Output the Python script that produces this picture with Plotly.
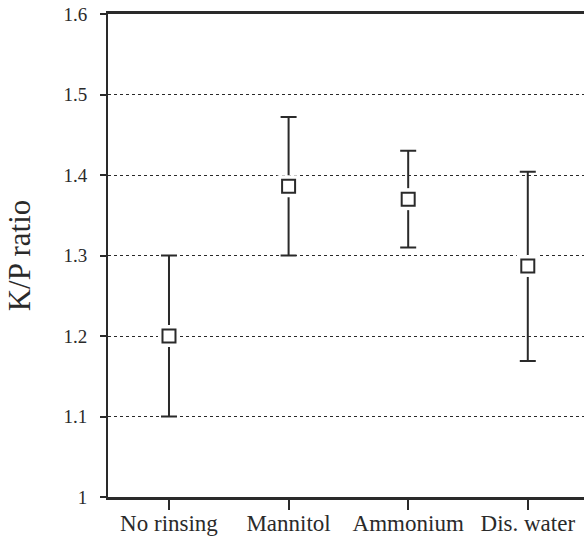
import plotly.graph_objects as go

categories = ["No rinsing", "Mannitol", "Ammonium", "Dis. water"]
kp_mean = [1.200, 1.386, 1.370, 1.287]
kp_upper = [1.300, 1.472, 1.430, 1.404]
kp_lower = [1.100, 1.300, 1.310, 1.169]
y_ticks = [1, 1.1, 1.2, 1.3, 1.4, 1.5, 1.6]
y_tick_text = ["1", "1.1", "1.2", "1.3", "1.4", "1.5", "1.6"]

xs = list(range(len(categories)))
err_plus = [u - m for u, m in zip(kp_upper, kp_mean)]
err_minus = [m - l for m, l in zip(kp_mean, kp_lower)]

fig = go.Figure()
fig.add_trace(go.Scatter(
    x=xs, y=kp_mean, mode="markers",
    marker=dict(symbol="square", size=22, color="white", line=dict(width=0)),
    error_y=dict(type="data", symmetric=False, array=err_plus, arrayminus=err_minus,
                 color="#2a2a2a", thickness=2, width=8),
    showlegend=False, hoverinfo="skip",
))
fig.add_trace(go.Scatter(
    x=xs, y=kp_mean, mode="markers",
    marker=dict(symbol="square", size=13, color="white", line=dict(width=2, color="#2a2a2a")),
    showlegend=False,
))

fig.update_layout(
    width=584, height=546,
    margin=dict(l=108, r=0, t=14, b=49),
    paper_bgcolor="white", plot_bgcolor="white",
    font=dict(family="Liberation Serif", color="#2a2a2a"),
    xaxis=dict(
        range=[-0.51, 3.47], tickmode="array", tickvals=xs, ticktext=categories,
        showgrid=False, zeroline=False,
        showline=True, linecolor="#2a2a2a", linewidth=2.5, mirror=True,
        ticks="outside", ticklen=10, tickwidth=2, tickcolor="#2a2a2a",
        ticklabelstandoff=-6,
        tickfont=dict(size=23, family="Liberation Serif"),
    ),
    yaxis=dict(
        range=[1, 1.6], tickmode="array", tickvals=y_ticks, ticktext=y_tick_text,
        showgrid=True, gridcolor="#2a2a2a", gridwidth=1.3, griddash="dot",
        zeroline=False,
        showline=True, linecolor="#2a2a2a", linewidth=2,
        ticks="outside", ticklen=6, tickwidth=2, tickcolor="#2a2a2a",
        ticklabelstandoff=9,
        tickfont=dict(size=19, family="Liberation Serif"),
        title=dict(text="K/P ratio", font=dict(size=31, family="Liberation Serif"), standoff=24),
    ),
)

fig.write_html("out.html")
